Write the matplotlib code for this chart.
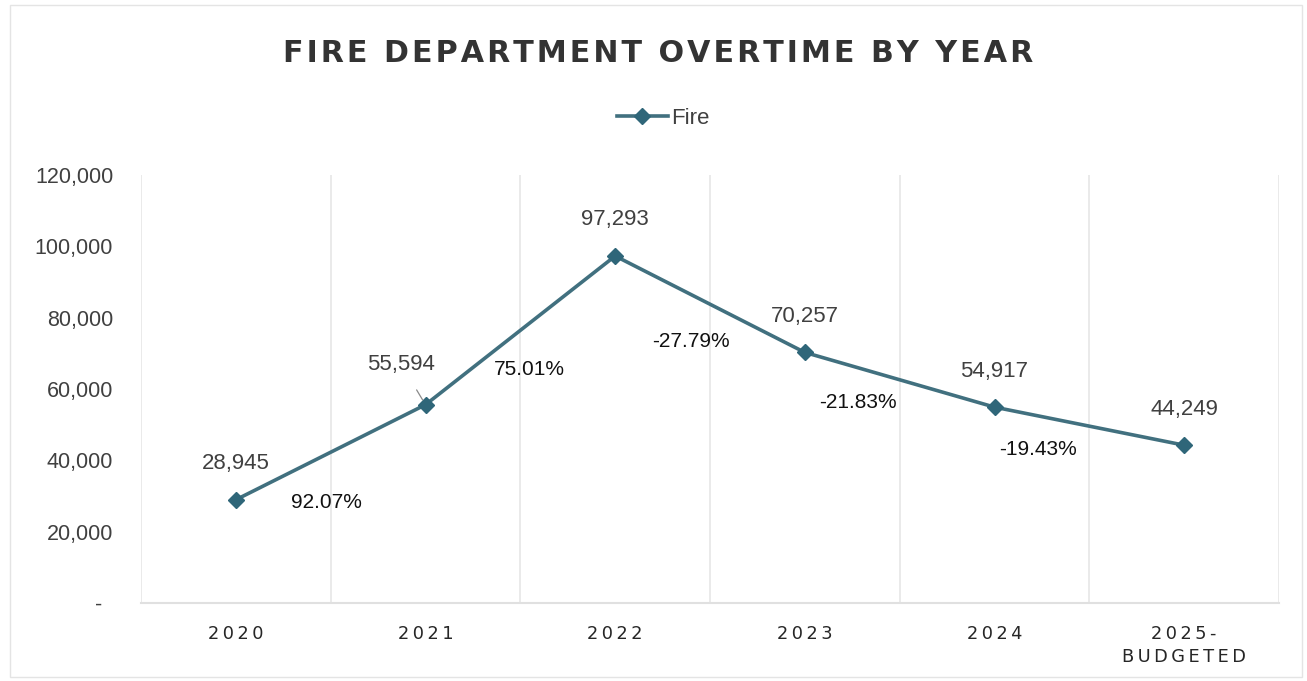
import matplotlib
matplotlib.use("Agg")
import matplotlib.pyplot as plt
from matplotlib.patches import Rectangle
from matplotlib.ticker import FixedLocator, FuncFormatter

# Overtime totals by year
years = ["2020", "2021", "2022", "2023", "2024", "2025-\nBUDGETED"]
overtime = [28945, 55594, 97293, 70257, 54917, 44249]
series_name = "Fire"
y_ticks = [0, 20000, 40000, 60000, 80000, 100000, 120000]

# Year-over-year change labels: x position (between categories) and height
pct_x = [0.48, 1.55, 2.40, 3.28, 4.23]
pct_y = [28300, 65600, 73200, 56100, 42900]

LINE = "#41707f"
TEXT = "#404040"
GRID = "#e6e6e6"
ARIAL = ["Liberation Sans", "DejaVu Sans"]


def spaced(s, sep="\u2009"):
    return "\n".join(sep.join(line) for line in s.split("\n"))


fig = plt.figure(figsize=(13.07, 6.81), dpi=100)
fig.patch.set_facecolor("white")
fig.add_artist(Rectangle((10 / 1307, 4 / 681), 1292 / 1307, 672 / 681,
                         transform=fig.transFigure, fill=False,
                         edgecolor="#e4e4e4", linewidth=1.0))

ax = fig.add_axes([141 / 1307, 78 / 681, 1138 / 1307, 428 / 681])
x = list(range(len(years)))
line, = ax.plot(x, overtime, color=LINE, linewidth=2.6, marker="D",
                markersize=8, markerfacecolor="#2f6679",
                markeredgecolor="#2f6679", label=series_name, zorder=3)

ax.set_xlim(-0.5, len(years) - 0.5)
ax.set_ylim(0, 120000)

# category boundary gridlines
ax.xaxis.set_minor_locator(FixedLocator([i - 0.5 for i in range(len(years) + 1)]))
ax.grid(True, which="minor", axis="x", color=GRID, linewidth=1.2)
ax.grid(False, which="major")
ax.tick_params(axis="both", which="both", length=0)

ax.set_xticks(x)
ax.set_xticklabels([spaced(y) for y in years], fontsize=12.8, color="#262626",
                   linespacing=1.35, va="top")
ax.tick_params(axis="x", pad=16)

ax.yaxis.set_major_locator(FixedLocator(y_ticks))
ax.yaxis.set_major_formatter(FuncFormatter(lambda v, p: "-\u2002" if v == 0 else f"{int(v):,}"))
ax.tick_params(axis="y", labelsize=15.5, labelcolor=TEXT, pad=20)
for lbl in ax.get_yticklabels():
    lbl.set_family(ARIAL)

for s in ["top", "right", "left"]:
    ax.spines[s].set_visible(False)
ax.spines["bottom"].set_color("#e0e0e0")
ax.spines["bottom"].set_linewidth(1.5)

# value labels
for i, v in enumerate(overtime):
    if i == 1:
        ax.annotate(f"{v:,}", xy=(i, v), xytext=(-24, 40), textcoords="offset pixels",
                    ha="center", va="center", fontsize=16, color=TEXT, family=ARIAL,
                    arrowprops=dict(arrowstyle="-", color="#8a8a8a", lw=0.9,
                                    shrinkA=10, shrinkB=4))
    else:
        ax.annotate(f"{v:,}", xy=(i, v), xytext=(0, 36), textcoords="offset pixels",
                    ha="center", va="center", fontsize=16, color=TEXT, family=ARIAL)

# percentage change labels
for k in range(len(overtime) - 1):
    change = (overtime[k + 1] - overtime[k]) / overtime[k] * 100
    ax.text(pct_x[k], pct_y[k], f"{change:.2f}%", ha="center", va="center",
            fontsize=15, color="#111111", family=ARIAL)

fig.text(658 / 1307, 1 - 53 / 681, spaced("FIRE DEPARTMENT OVERTIME BY YEAR", "\u200a"),
         ha="center", va="center", fontsize=21.7, fontweight="bold", color="#333333")

fig.legend(handles=[line], loc="center", bbox_to_anchor=(663 / 1307, 1 - 118 / 681),
           frameon=False, prop={"family": ARIAL, "size": 16}, handlelength=2.3,
           handletextpad=0.15, labelcolor=TEXT)

fig.savefig("out.png", dpi=100, facecolor="white")
